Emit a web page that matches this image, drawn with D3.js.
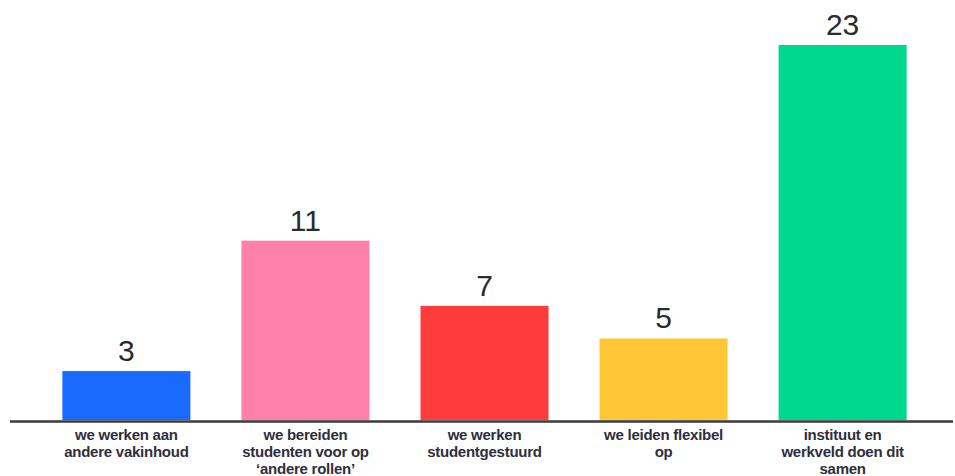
<!DOCTYPE html>
<html>
<head>
<meta charset="utf-8">
<script src="https://cdn.jsdelivr.net/npm/d3@7"></script>
<style>
  html, body { margin: 0; padding: 0; background: #fff; }
  svg { display: block; }
</style>
</head>
<body>
<svg id="chart" width="955" height="476"></svg>
<script>
const categories = [
  "we werken aan andere vakinhoud",
  "we bereiden studenten voor op ‘andere rollen’",
  "we werken studentgestuurd",
  "we leiden flexibel op",
  "instituut en werkveld doen dit samen"
];
const values = [3, 11, 7, 5, 23];
const colors = ["#1B6AFF", "#FF80AA", "#FF3C3C", "#FFC636", "#00D88F"];

const svg = d3.select("#chart");
const baseY = 420;

const x = d3.scaleBand()
  .domain(categories)
  .range([40, 929])
  .paddingInner(0.285)
  .paddingOuter(0.125);

const y = d3.scaleLinear()
  .domain([0, 23])
  .range([baseY, 45]);

svg.selectAll("rect.bar")
  .data(categories)
  .join("rect")
  .attr("class", "bar")
  .attr("x", d => x(d))
  .attr("y", (d, i) => y(values[i]))
  .attr("width", x.bandwidth())
  .attr("height", (d, i) => baseY - y(values[i]))
  .attr("fill", (d, i) => colors[i]);

svg.selectAll("text.val")
  .data(categories)
  .join("text")
  .attr("class", "val")
  .attr("x", d => x(d) + x.bandwidth() / 2)
  .attr("y", (d, i) => y(values[i]) - 10)
  .attr("text-anchor", "middle")
  .attr("font-family", "Liberation Sans, Arial, sans-serif")
  .attr("font-size", 30)
  .attr("fill", "#2b2b2b")
  .text((d, i) => values[i]);

const axis = d3.axisBottom(x).tickSize(0).tickFormat("");
const axisG = svg.append("g").attr("transform", `translate(0,${baseY + 1})`).call(axis);
axisG.select(".domain").remove();
svg.append("line")
  .attr("x1", 10).attr("x2", 953)
  .attr("y1", baseY + 1.5).attr("y2", baseY + 1.5)
  .attr("stroke", "#3a3a3a")
  .attr("stroke-width", 2.5);

const labelFont = { family: "Liberation Sans, Arial, sans-serif", size: 15, spacing: "-0.25px", weight: "bold" };
const labelG = svg.append("g");
const wrapWidth = 134;
const measurer = svg.append("text")
  .attr("font-family", labelFont.family)
  .attr("font-size", labelFont.size)
  .attr("font-weight", labelFont.weight)
  .attr("letter-spacing", labelFont.spacing)
  .attr("visibility", "hidden");

function wrap(str) {
  const words = str.split(" ");
  const lines = [];
  let line = [];
  words.forEach(w => {
    const test = line.concat([w]).join(" ");
    measurer.text(test);
    if (measurer.node().getComputedTextLength() > wrapWidth && line.length) {
      lines.push(line.join(" "));
      line = [w];
    } else {
      line.push(w);
    }
  });
  if (line.length) lines.push(line.join(" "));
  return lines;
}

categories.forEach(c => {
  const lines = wrap(c);
  const t = labelG.append("text")
    .attr("x", x(c) + x.bandwidth() / 2)
    .attr("y", 440)
    .attr("text-anchor", "middle")
    .attr("font-family", labelFont.family)
    .attr("font-size", labelFont.size)
    .attr("font-weight", labelFont.weight)
    .attr("letter-spacing", labelFont.spacing)
    .attr("fill", "#2e2e3c");
  lines.forEach((l, i) => {
    t.append("tspan")
      .attr("x", x(c) + x.bandwidth() / 2)
      .attr("dy", i === 0 ? 0 : 16.8)
      .text(l);
  });
});
measurer.remove();
</script>
</body>
</html>
